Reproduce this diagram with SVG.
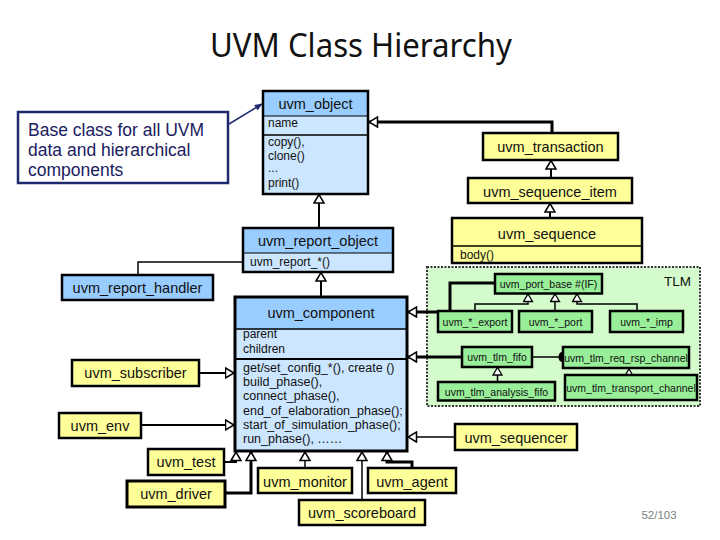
<svg xmlns="http://www.w3.org/2000/svg" width="720" height="540" viewBox="0 0 720 540">
<style>
  text { font-family: "Liberation Sans", Arial, sans-serif; fill: #111; }
  .hdr { font-size: 14.5px; text-anchor: middle; }
  .mem { font-size: 12px; }
  .sm { font-size: 12px; }
  .tl { font-size: 10.5px; text-anchor: middle; }
  .box { stroke: #000; stroke-width: 2.5; }
  .blue { fill: #99ccff; }
  .lblue { fill: #cce6ff; }
  .yel { fill: #ffff99; }
  .grn { fill: #99ee99; }
  .sep { stroke: #000; stroke-width: 1.5; }
  .c { fill: none; stroke: #000; }
  .thin { stroke-width: 1.5; }
  .mid { stroke-width: 2; }
  .thick { stroke-width: 3; }
  .inh { marker-end: url(#tri); }
  .inhs { marker-end: url(#tris); }
</style>
<defs>
  <marker id="tri" viewBox="0 0 10 12" markerWidth="10" markerHeight="12" refX="9.5" refY="6" orient="auto" markerUnits="userSpaceOnUse">
    <path d="M1,1 L9.5,6 L1,11 Z" fill="#fff" stroke="#000" stroke-width="1.5"/>
  </marker>
  <marker id="tris" viewBox="0 0 9 11" markerWidth="9" markerHeight="11" refX="8.5" refY="5.5" orient="auto" markerUnits="userSpaceOnUse">
    <path d="M1,1 L8.5,5.5 L1,10 Z" fill="#fff" stroke="#000" stroke-width="1.3"/>
  </marker>
  <marker id="ar" viewBox="0 0 10 10" markerWidth="8" markerHeight="8" refX="9" refY="5" orient="auto" markerUnits="userSpaceOnUse">
    <path d="M0,1 L10,5 L0,9 Z" fill="#1f2a6e"/>
  </marker>
</defs>

<rect width="720" height="540" fill="#fff"/>

<text x="361" y="57" font-size="32" text-anchor="middle" textLength="302" lengthAdjust="spacingAndGlyphs" style="font-family:'Noto Sans','Open Sans',sans-serif">UVM Class Hierarchy</text>

<g id="tlm-region">
  <rect x="427" y="267" width="273" height="139" fill="#d4fbcc" stroke="#333" stroke-width="2" stroke-dasharray="2,1.5"/>
  <text x="664" y="286" font-size="13.5">TLM</text>
</g>

<g id="connectors">
  <line x1="229" y1="124" x2="262" y2="104" stroke="#1f2a6e" stroke-width="1.5" marker-end="url(#ar)"/>
  <path class="c thick inh" d="M552,133 V122 H369"/>
  <path class="c mid inh" d="M319,228 V194.5"/>
  <path class="c mid inh" d="M551,178 V160.5"/>
  <path class="c mid inh" d="M550,218 V203.5"/>
  <path class="c thin" d="M243,262 H138 V275"/>
  <path class="c mid inh" d="M321,297 V272.5"/>
  <path class="c thick inh" d="M495,283 H450 V312 H408"/>
  <path class="c thick inh" d="M462,357 H408"/>
  <path class="c thin inh" d="M455,437 H408"/>
  <path class="c mid inh" d="M199,373 H234"/>
  <path class="c mid inh" d="M141,425 H234"/>
  <path class="c mid inh" d="M224,462 H236 V452"/>
  <path class="c thick inh" d="M225,493 H251 V452"/>
  <path class="c thin inh" d="M305,468 V452"/>
  <path class="c thin inh" d="M362,500 V452"/>
  <path class="c thick inh" d="M412,468 V462 H387 V452"/>
  <path class="c thin inhs" d="M475,311 V304 H528 V294"/>
  <path class="c thin inhs" d="M555,311 V294"/>
  <path class="c thin inhs" d="M637,311 V304 H577 V294"/>
  <path class="c thin inhs" d="M497.5,382 V367.5"/>
  <path class="c thin inhs" d="M629,375 V369"/>
  <path class="c thin" d="M532,357 H562"/>
  <ellipse cx="562" cy="357" rx="3.5" ry="5" fill="#000"/>
</g>

<g id="callout">
  <rect x="18" y="112" width="210" height="71" fill="#fff" stroke="#1f2a6e" stroke-width="2.5"/>
  <text x="28" y="136" font-size="17.5" style="fill:#1a2060">Base class for all UVM</text>
  <text x="28" y="156" font-size="17.5" style="fill:#1a2060">data and hierarchical</text>
  <text x="28" y="176" font-size="17.5" style="fill:#1a2060">components</text>
</g>

<g id="uvm_object">
  <rect x="263" y="91" width="105" height="25" class="blue"/>
  <rect x="263" y="116" width="105" height="78" class="lblue"/>
  <line x1="263" y1="116" x2="368" y2="116" stroke="#000" stroke-width="1"/>
  <line x1="263" y1="135" x2="368" y2="135" class="sep"/>
  <rect x="263" y="91" width="105" height="103" fill="none" class="box"/>
  <text x="315.5" y="109" class="hdr">uvm_object</text>
  <text x="268" y="127" class="mem">name</text>
  <text x="268" y="146" class="sm">copy(),</text>
  <text x="268" y="159.5" class="sm">clone()</text>
  <text x="268" y="172" class="sm">...</text>
  <text x="268" y="187" class="sm">print()</text>
</g>

<g id="uvm_report_object">
  <rect x="243" y="228" width="150" height="25" class="blue"/>
  <rect x="243" y="253" width="150" height="19" class="lblue"/>
  <line x1="243" y1="253" x2="393" y2="253" stroke="#000" stroke-width="1"/>
  <rect x="243" y="228" width="150" height="44" fill="none" class="box"/>
  <text x="318" y="246" class="hdr">uvm_report_object</text>
  <text x="250" y="266" class="mem">uvm_report_*()</text>
</g>

<g id="uvm_report_handler">
  <rect x="62" y="275" width="151" height="25" class="box blue"/>
  <text x="137.5" y="293" class="hdr">uvm_report_handler</text>
</g>

<g id="uvm_component">
  <rect x="235" y="297" width="172" height="32" class="blue"/>
  <rect x="235" y="329" width="172" height="122" class="lblue"/>
  <line x1="235" y1="329" x2="407" y2="329" class="sep"/>
  <line x1="235" y1="359" x2="407" y2="359" stroke="#000" stroke-width="2"/>
  <rect x="235" y="297" width="172" height="154" fill="none" stroke="#000" stroke-width="3"/>
  <text x="321" y="318" class="hdr">uvm_component</text>
  <text x="243" y="338" class="mem">parent</text>
  <text x="243" y="352.5" class="mem">children</text>
  <text x="243" y="372" font-size="12.5">get/set_config_*(), create ()</text>
  <text x="243" y="386" font-size="12.5">build_phase(),</text>
  <text x="243" y="400" font-size="12.5">connect_phase(),</text>
  <text x="243" y="414.5" font-size="12.5">end_of_elaboration_phase();</text>
  <text x="243" y="428.5" font-size="12.5">start_of_simulation_phase();</text>
  <text x="243" y="443" font-size="12.5">run_phase(), ……</text>
</g>

<g id="uvm_transaction">
  <rect x="483" y="133" width="135" height="27" class="box yel"/>
  <text x="550.5" y="152" class="hdr">uvm_transaction</text>
</g>

<g id="uvm_sequence_item">
  <rect x="468" y="178" width="164" height="25" class="box yel"/>
  <text x="550" y="196.5" class="hdr">uvm_sequence_item</text>
</g>

<g id="uvm_sequence">
  <rect x="452" y="218" width="190" height="45" class="box yel"/>
  <line x1="452" y1="246" x2="642" y2="246" class="sep"/>
  <text x="547" y="239" class="hdr">uvm_sequence</text>
  <text x="460" y="258.5" class="mem">body()</text>
</g>

<g id="uvm_port_base">
  <rect x="495" y="274" width="107" height="19.5" class="box grn"/>
  <text x="548.5" y="287.5" class="tl">uvm_port_base #(IF)</text>
</g>
<g id="uvm_export">
  <rect x="438" y="311" width="74" height="21" class="box grn"/>
  <text x="475" y="325.5" class="tl">uvm_*_export</text>
</g>
<g id="uvm_port">
  <rect x="519" y="311" width="73" height="21" class="box grn"/>
  <text x="555.5" y="325.5" class="tl">uvm_*_port</text>
</g>
<g id="uvm_imp">
  <rect x="610" y="311" width="73" height="21" class="box grn"/>
  <text x="646.5" y="325.5" class="tl">uvm_*_imp</text>
</g>
<g id="uvm_tlm_fifo">
  <rect x="462" y="347" width="70" height="20" class="box grn"/>
  <text x="497" y="361" class="tl">uvm_tlm_fifo</text>
</g>
<g id="uvm_tlm_req_rsp_channel">
  <rect x="563" y="347" width="126" height="21" class="box grn"/>
  <text x="626" y="361.5" class="tl">uvm_tlm_req_rsp_channel</text>
</g>
<g id="uvm_tlm_analysis_fifo">
  <rect x="438" y="382" width="117" height="18.5" class="box grn"/>
  <text x="496.5" y="395.5" class="tl">uvm_tlm_analysis_fifo</text>
</g>
<g id="uvm_tlm_transport_channel">
  <rect x="565" y="375" width="132" height="25" class="box grn"/>
  <text x="631" y="392" class="tl">uvm_tlm_transport_channel</text>
</g>

<g id="uvm_sequencer">
  <rect x="455" y="424" width="122" height="26" class="box yel"/>
  <text x="516" y="443" class="hdr">uvm_sequencer</text>
</g>
<g id="uvm_subscriber">
  <rect x="72" y="360" width="127" height="26" class="box yel"/>
  <text x="135.5" y="378" class="hdr">uvm_subscriber</text>
</g>
<g id="uvm_env">
  <rect x="59" y="413" width="82" height="25" class="box yel"/>
  <text x="100" y="430.5" class="hdr">uvm_env</text>
</g>
<g id="uvm_test">
  <rect x="148" y="449" width="76" height="26" class="box yel"/>
  <text x="186" y="467" class="hdr">uvm_test</text>
</g>
<g id="uvm_driver">
  <rect x="127" y="481" width="98" height="26" class="yel" stroke="#000" stroke-width="3"/>
  <text x="176" y="499" class="hdr">uvm_driver</text>
</g>
<g id="uvm_monitor">
  <rect x="258" y="468" width="94" height="25" class="box yel"/>
  <text x="305" y="486.5" class="hdr">uvm_monitor</text>
</g>
<g id="uvm_agent">
  <rect x="368" y="468" width="88" height="25" class="box yel"/>
  <text x="412" y="486.5" class="hdr">uvm_agent</text>
</g>
<g id="uvm_scoreboard">
  <rect x="299" y="500" width="126" height="25" class="box yel"/>
  <text x="362" y="518" class="hdr">uvm_scoreboard</text>
</g>

<text x="659" y="519" font-size="11.5" text-anchor="middle" style="fill:#808080">52/103</text>
</svg>
